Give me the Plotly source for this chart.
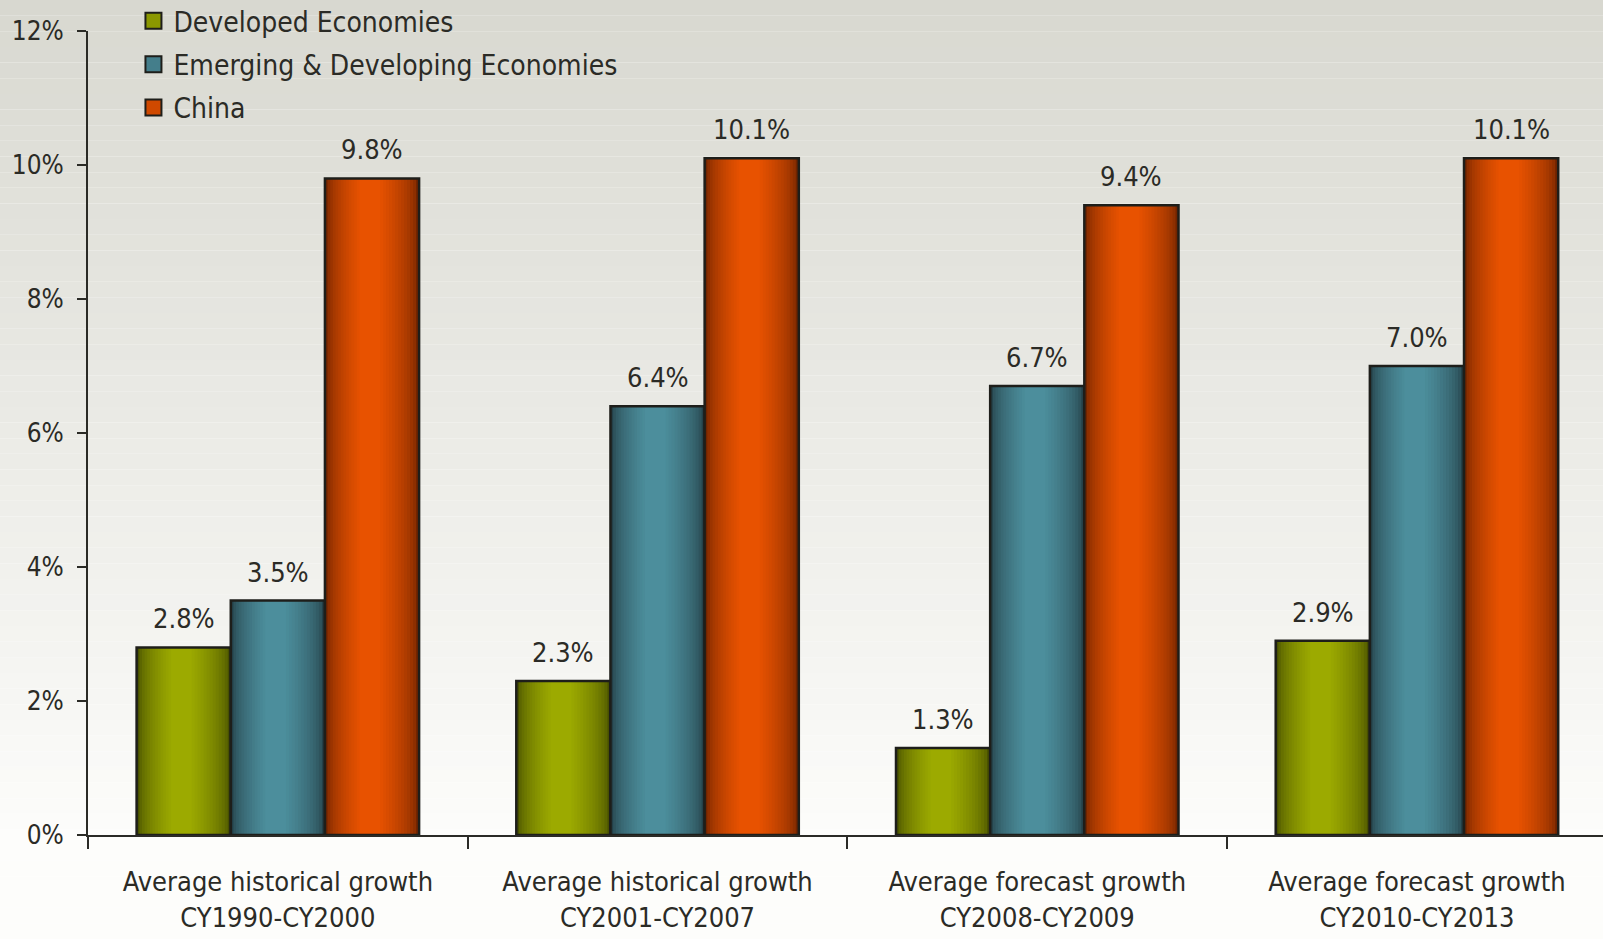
import plotly.graph_objects as go

categories = ["Average historical growth<br>CY1990-CY2000",
              "Average historical growth<br>CY2001-CY2007",
              "Average forecast growth<br>CY2008-CY2009",
              "Average forecast growth<br>CY2010-CY2013"]
series_names = ["Developed Economies", "Emerging & Developing Economies", "China"]
developed = [2.8, 2.3, 1.3, 2.9]
emerging = [3.5, 6.4, 6.7, 7.0]
china = [9.8, 10.1, 9.4, 10.1]
y_ticks = [0, 2, 4, 6, 8, 10, 12]
y_tick_labels = ["0%", "2%", "4%", "6%", "8%", "10%", "12%"]

series_values = [developed, emerging, china]
dark_colors = [(72, 80, 0), (36, 64, 72), (112, 36, 0)]
light_colors = [(156, 170, 0), (76, 142, 156), (232, 82, 0)]

FONT = "Liberation Sans Narrow, Arial Narrow, DejaVu Sans Condensed, sans-serif"
TXT = "#2b2b26"
EDGE = "#1e1e1a"

bar_w = 0.248
centers = [-bar_w, 0.0, bar_w]
N = 14

fig = go.Figure()

def mix(a, b, t):
    return "rgb(%d,%d,%d)" % tuple(round(a[i] + (b[i] - a[i]) * t) for i in range(3))

# legend proxies
for s, name in enumerate(series_names):
    fig.add_trace(go.Scatter(
        x=[None], y=[None], mode="markers", name=name, legendgroup=name,
        marker=dict(symbol="square", size=16, color=mix(dark_colors[s], light_colors[s], 0.8),
                    line=dict(width=2, color=EDGE)),
        hoverinfo="skip",
    ))

annotations = []
for s, vals in enumerate(series_values):
    for k in range(N):
        t = k / (N - 1)
        w = bar_w * (1 - 0.78 * t)
        col = mix(dark_colors[s], light_colors[s], t ** 0.55)
        fig.add_trace(go.Bar(
            x=categories, y=vals, width=w, offset=centers[s] - w / 2 - 0.006 * t,
            marker=dict(color=col, line=dict(width=0)),
            name=series_names[s], legendgroup=series_names[s],
            showlegend=False, hoverinfo="skip",
        ))
    fig.add_trace(go.Bar(
        x=categories, y=vals, width=bar_w, offset=centers[s] - bar_w / 2,
        marker=dict(color="rgba(0,0,0,0)", line=dict(width=2.5, color=EDGE)),
        name=series_names[s], legendgroup=series_names[s], showlegend=False,
        hoverinfo="skip",
    ))
    for i, v in enumerate(vals):
        annotations.append(dict(
            x=i + centers[s], y=v, xref="x", yref="y", text="%.1f%%" % v,
            showarrow=False, yanchor="bottom", yshift=11,
            font=dict(family=FONT, size=27, color=TXT)))

# background vertical gradient
top_c = (216, 216, 208)
bot_c = (253, 253, 251)
nb = 60
H = 939.0
pt, pb = 31.0, 104.0
ph = H - pt - pb
shapes = []
for i in range(nb):
    y0px = H * i / nb
    y1px = H * (i + 1) / nb
    t = min(1.0, (i + 0.5) / nb / 0.9)
    col = mix(top_c, bot_c, t)
    shapes.append(dict(type="rect", xref="paper", yref="paper", layer="below",
                       x0=-0.1, x1=1.1,
                       y0=1 - (y1px - pt) / ph, y1=1 - (y0px - pt) / ph,
                       fillcolor=col, line=dict(width=0)))

fig.update_layout(
    width=1603, height=939,
    margin=dict(l=88, r=0, t=31, b=104, autoexpand=False),
    barmode="overlay",
    paper_bgcolor="white", plot_bgcolor="rgba(0,0,0,0)",
    shapes=shapes, annotations=annotations,
    font=dict(family=FONT, size=28, color=TXT),
    showlegend=True,
    legend=dict(x=0.030, y=1.0435, yref="paper", xanchor="left", yanchor="top",
                bgcolor="rgba(0,0,0,0)", font=dict(family=FONT, size=28, color=TXT),
                traceorder="grouped", tracegroupgap=4),
    xaxis=dict(type="category", range=[-0.5, 3.49], automargin=False,
               tickson="boundaries", ticks="outside", ticklen=12, tickwidth=2,
               tickcolor="#2b2b26", showline=True, linecolor="#2b2b26", linewidth=2,
               showgrid=False, zeroline=False, ticklabelstandoff=22,
               tickfont=dict(family=FONT, size=27, color=TXT)),
    yaxis=dict(range=[0, 12], tickvals=y_ticks, ticktext=y_tick_labels, automargin=False,
               ticks="outside", ticklen=9, tickwidth=2, tickcolor="#2b2b26",
               showline=True, linecolor="#2b2b26", linewidth=2,
               showgrid=False, zeroline=False, ticklabelstandoff=8,
               tickfont=dict(family=FONT, size=26, color=TXT)),
)

fig.write_html("out.html", config={"displayModeBar": False},
               post_script="document.body.style.margin='0';document.body.style.overflow='hidden';")
